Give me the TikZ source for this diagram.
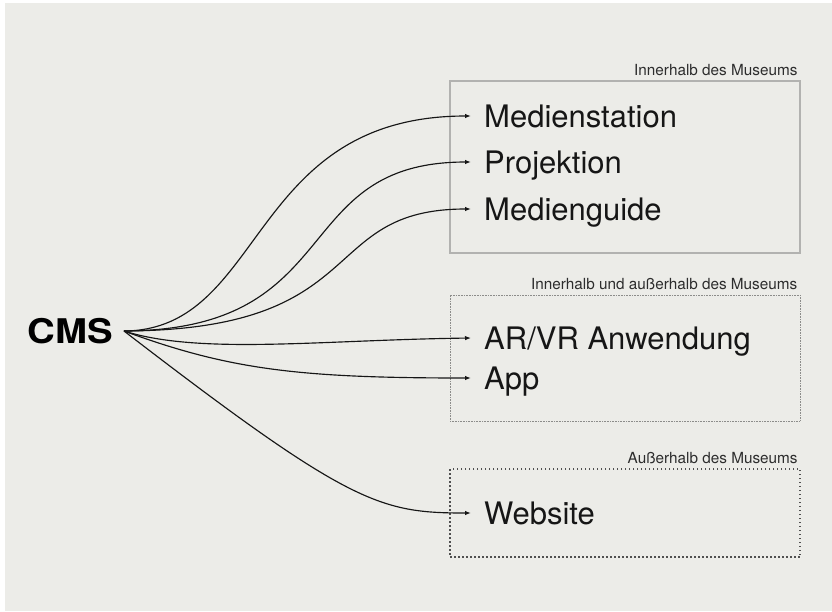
\documentclass[tikz,border=0pt]{standalone}
\usepackage{fontspec}
\setmainfont{TeX Gyre Heros}
\usetikzlibrary{arrows.meta}
\definecolor{paper}{RGB}{236,236,232}
\definecolor{ink}{RGB}{22,22,22}
\definecolor{labelgray}{RGB}{45,45,45}
\definecolor{framesolid}{RGB}{178,178,176}
\definecolor{framefine}{RGB}{140,140,138}
\definecolor{framedot}{RGB}{80,80,80}
\begin{document}
\begin{tikzpicture}[x=1pt,y=-1pt,
  conn/.style={draw=ink, line width=1.15pt, -{Latex[length=6pt,width=4.5pt]}},
  item/.style={anchor=west, inner xsep=13pt, inner ysep=0pt, text height=22pt,
    text depth=0pt, font=\fontsize{31}{37}\selectfont, text=ink},
  zone/.style={minimum width=350pt, inner sep=0pt},
  zonelabel/.style={anchor=base east, inner sep=0pt, font=\fontsize{15.3}{18}\selectfont,
    text=labelgray, xshift=-3pt, yshift=5pt}]
  \useasboundingbox (0,0) rectangle (832,611);
  \fill[white] (0,0) rectangle (832,611);
  \fill[paper] (5,3) rectangle (832,611);

  % zones
  \node[zone, draw=framesolid, line width=1.2pt, minimum height=172pt] (inside) at (625,167) {};
  \node[zone, draw=framefine, line width=0.9pt, dash pattern=on 0.8pt off 0.8pt, minimum height=126pt] (both) at (625,358) {};
  \node[zone, draw=framedot, line width=1.6pt, dash pattern=on 1.5pt off 2.5pt, minimum height=88pt] (outside) at (625,513) {};

  \node[zonelabel] (insidelbl) at (inside.north east) {Innerhalb des Museums};
  \node[zonelabel] (bothlbl) at (both.north east) {Innerhalb und außerhalb des Museums};
  \node[zonelabel] (outsidelbl) at (outside.north east) {Außerhalb des Museums};

  % source
  \node[anchor=east, inner xsep=11pt, inner ysep=0pt, text height=24.5pt, text depth=0pt,
    font=\fontsize{34}{40}\selectfont\bfseries, text=black] (cms) at (124,331) {\scalebox{1.13}[1]{CMS}};

  % targets
  \node[item] (medst) at (471,116) {Medienstation};
  \node[item] (proj) at (471,162) {Projektion};
  \node[item] (guide) at (471,209) {Medienguide};
  \node[item] (arvr) at (471,338) {AR/VR Anwendung};
  \node[item] (app) at (471,378) {App};
  \node[item] (web) at (471,513) {Website};

  % connectors
  \draw[conn] (cms.east) .. controls (266,330) and (247,116) .. (medst.west);
  \draw[conn] (cms.east) .. controls (349,330) and (287,162) .. (proj.west);
  \draw[conn] (cms.east) .. controls (374,330) and (316,209) .. (guide.west);
  \draw[conn] (cms.east) .. controls (200,355) and (320,340) .. (arvr.west);
  \draw[conn] (cms.east) .. controls (230,370) and (300,378) .. (app.west);
  \draw[conn] (cms.east) .. controls (350,505) and (380,513) .. (web.west);
\end{tikzpicture}
\end{document}
